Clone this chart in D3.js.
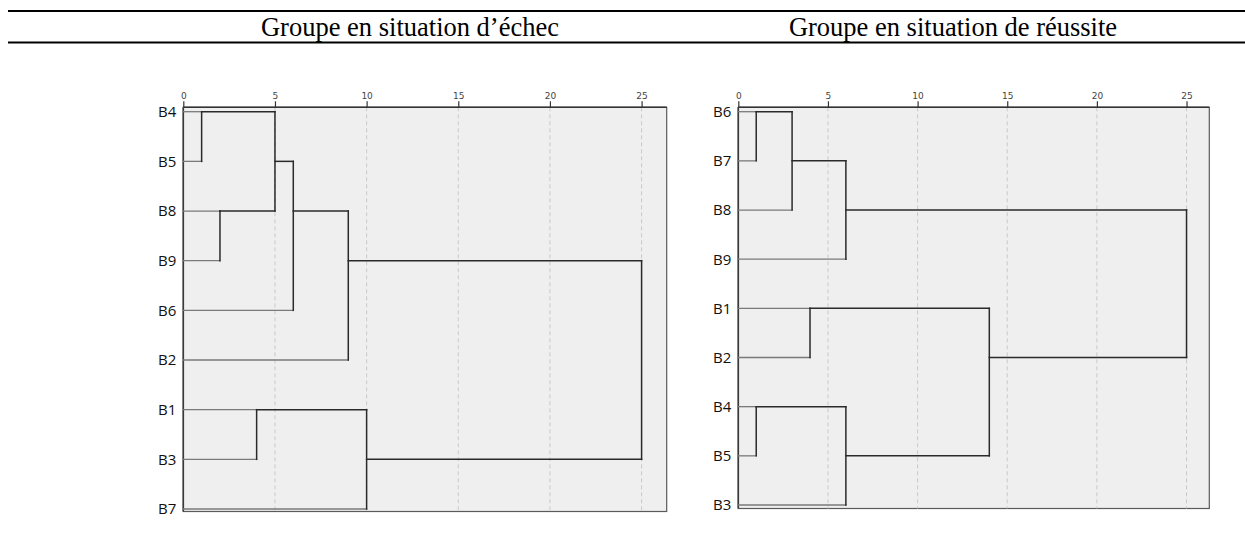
<!DOCTYPE html>
<html>
<head>
<meta charset="utf-8">
<script src="https://cdn.jsdelivr.net/npm/d3@7"></script>
<style>
  html, body { margin: 0; padding: 0; background: #fff; }
  svg { display: block; }
</style>
</head>
<body>
<svg id="chart" width="1245" height="557"></svg>
<script>
// Group titles
const titles = ["Groupe en situation d’échec", "Groupe en situation de réussite"];

// Rescaled distance axis
const distanceTicks = [0, 5, 10, 15, 20, 25];

// Leaf order (top to bottom) for each dendrogram
const echecLeaves = ["B4", "B5", "B8", "B9", "B6", "B2", "B1", "B3", "B7"];
const reussiteLeaves = ["B6", "B7", "B8", "B9", "B1", "B2", "B4", "B5", "B3"];

// Agglomeration steps: [member A, member B, rescaled distance]
// Clusters created by step k are referred to as "C" + k (1-based).
const echecMerges = [
  ["B4", "B5", 1],
  ["B8", "B9", 2],
  ["C1", "C2", 5],
  ["C3", "B6", 6],
  ["C4", "B2", 9],
  ["B1", "B3", 4],
  ["C6", "B7", 10],
  ["C5", "C7", 25]
];
const reussiteMerges = [
  ["B6", "B7", 1],
  ["C1", "B8", 3],
  ["C2", "B9", 6],
  ["B1", "B2", 4],
  ["B4", "B5", 1],
  ["C5", "B3", 6],
  ["C4", "C6", 14],
  ["C3", "C7", 25]
];

const svg = d3.select("#chart");

// Horizontal rules of the table header
[11, 42.5].forEach(y => {
  svg.append("line")
    .attr("x1", 8).attr("x2", 1245)
    .attr("y1", y).attr("y2", y)
    .attr("stroke", "#000").attr("stroke-width", 2.2);
});

const titleX = [410, 953];
titles.forEach((t, i) => {
  svg.append("text")
    .attr("x", titleX[i]).attr("y", 35.5)
    .attr("text-anchor", "middle")
    .attr("font-family", "'Liberation Serif', 'Times New Roman', serif")
    .attr("font-size", 26.5)
    .attr("fill", "#000")
    .text(t);
});

function drawDendrogram(leaves, merges, box) {
  const g = svg.append("g");
  const x = d3.scaleLinear().domain([0, box.maxDist]).range([box.x0, box.x1]);
  const y = d3.scalePoint().domain(leaves).range([box.rowTop, box.rowBottom]);

  // Panel background and frame
  g.append("rect")
    .attr("x", box.x0).attr("y", box.y0)
    .attr("width", box.x1 - box.x0).attr("height", box.y1 - box.y0)
    .attr("fill", "#efefef")
    .attr("stroke", "#5a5a5a").attr("stroke-width", 1.2);

  // Dashed reference lines at each tick (except zero)
  g.selectAll("line.grid")
    .data(distanceTicks.filter(d => d > 0))
    .join("line")
    .attr("class", "grid")
    .attr("x1", d => x(d)).attr("x2", d => x(d))
    .attr("y1", box.y0).attr("y2", box.y1)
    .attr("stroke", "#c9c9c9").attr("stroke-width", 1)
    .attr("stroke-dasharray", "4,3");

  // Top distance axis
  const axis = d3.axisTop(x).tickValues(distanceTicks).tickSize(6).tickSizeOuter(0);
  const ag = g.append("g").attr("transform", `translate(0,${box.y0})`).call(axis);
  ag.select(".domain").attr("stroke", "#333").attr("stroke-width", 1.5)
    .attr("d", `M${box.x0},0H${box.x1}`);
  ag.selectAll(".tick line").attr("stroke", "#333").attr("stroke-width", 1.2);
  ag.selectAll(".tick text")
    .attr("font-family", "'DejaVu Sans', sans-serif")
    .attr("font-size", 9)
    .attr("fill", "#444")
    .attr("y", -8);

  // Left edge line
  g.append("line")
    .attr("x1", box.x0).attr("x2", box.x0)
    .attr("y1", box.y0).attr("y2", box.y1)
    .attr("stroke", "#3a3a3a").attr("stroke-width", 1.6);

  // Leaf labels
  g.selectAll("text.leaf")
    .data(leaves)
    .join("text")
    .attr("class", "leaf")
    .attr("x", box.x0 - 7)
    .attr("y", d => y(d))
    .attr("dy", "0.36em")
    .attr("text-anchor", "end")
    .attr("font-family", "'Open Sans', sans-serif")
    .attr("font-size", 15)
    .attr("fill", "#111")
    .text(d => d);

  // Build node positions: leaves sit at distance 0 on their own row;
  // a cluster sits on the row midway (rounded up) between its two members.
  const nodes = new Map();
  leaves.forEach((name, i) => nodes.set(name, { row: i, dist: 0, leaf: true }));
  const segs = [];
  merges.forEach(([a, b, d], k) => {
    const na = nodes.get(a), nb = nodes.get(b);
    [na, nb].forEach(n => {
      segs.push({ x1: n.dist, x2: d, r1: n.row, r2: n.row, leaf: n.leaf });
    });
    segs.push({ x1: d, x2: d, r1: na.row, r2: nb.row, leaf: false });
    nodes.set("C" + (k + 1), { row: Math.floor((na.row + nb.row) / 2), dist: d, leaf: false });
  });

  g.selectAll("line.link")
    .data(segs)
    .join("line")
    .attr("class", "link")
    .attr("x1", s => x(s.x1)).attr("x2", s => x(s.x2))
    .attr("y1", s => y(leaves[s.r1])).attr("y2", s => y(leaves[s.r2]))
    .attr("stroke", s => s.leaf ? "#7a7a7a" : "#2a2a2a")
    .attr("stroke-width", s => s.leaf ? 1.3 : 1.5)
    .attr("stroke-linecap", "square");
}

drawDendrogram(echecLeaves, echecMerges, {
  x0: 183.3, x1: 666.7, y0: 107.3, y1: 511.5,
  rowTop: 111.7, rowBottom: 509, maxDist: 26.37
});
drawDendrogram(reussiteLeaves, reussiteMerges, {
  x0: 738.3, x1: 1209.3, y0: 107.3, y1: 508.5,
  rowTop: 111.7, rowBottom: 505, maxDist: 26.27
});
</script>
</body>
</html>
